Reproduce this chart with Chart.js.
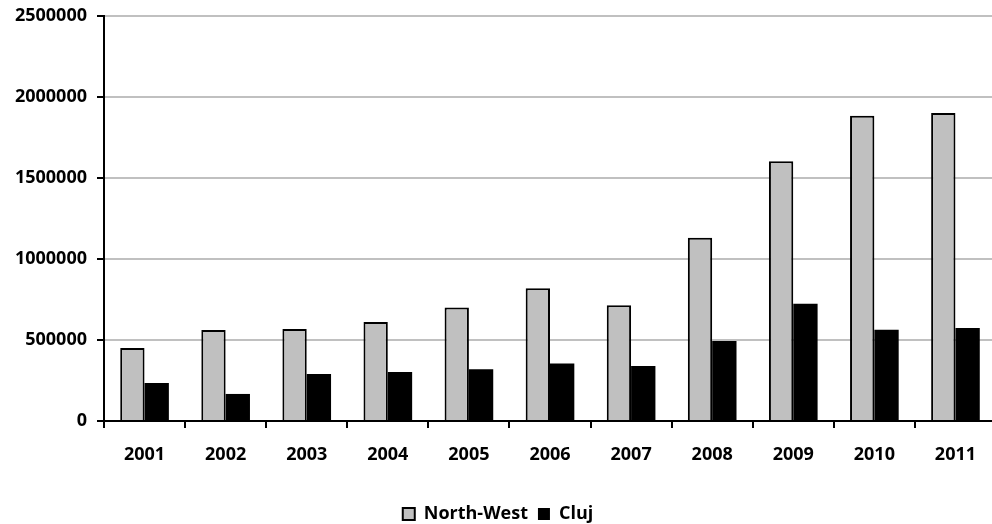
<!DOCTYPE html>
<html>
<head>
<meta charset="utf-8">
<script src="https://cdn.jsdelivr.net/npm/chart.js@4.4.1/dist/chart.umd.min.js"></script>
<style>
  html, body { margin: 0; padding: 0; background: #fff; overflow: hidden; }
  #wrap { width: 1000px; height: 524px; position: relative; }
</style>
</head>
<body>
<div id="wrap"><canvas id="chart"></canvas></div>
<script>
'use strict';

// 데이터
const years = ['2001', '2002', '2003', '2004', '2005', '2006', '2007', '2008', '2009', '2010', '2011'];
const northWest = [450000, 562000, 568000, 611000, 700000, 820000, 715000, 1131000, 1603000, 1885000, 1901000];
const cluj = [235000, 167000, 290000, 302000, 320000, 355000, 340000, 494000, 724000, 564000, 574000];
const yTicks = [0, 500000, 1000000, 1500000, 2000000, 2500000];

Chart.defaults.font.family = "'Open Sans', sans-serif";
Chart.defaults.font.weight = 'bold';
Chart.defaults.font.size = 18;
Chart.defaults.color = '#000';

const ctx = document.getElementById('chart').getContext('2d');

new Chart(ctx, {
  type: 'bar',
  data: {
    labels: years,
    datasets: [
      {
        label: 'North-West',
        data: northWest,
        backgroundColor: '#c0c0c0',
        borderColor: '#000',
        borderWidth: 2,
        borderSkipped: 'bottom',
        barPercentage: 1,
        categoryPercentage: 0.6,
      },
      {
        label: 'Cluj',
        data: cluj,
        backgroundColor: '#000',
        borderColor: '#000',
        borderWidth: 0,
        barPercentage: 1,
        categoryPercentage: 0.6,
      },
    ],
  },
  options: {
    responsive: true,
    maintainAspectRatio: false,
    animation: false,
    layout: { padding: { top: 0, right: 4, left: 0, bottom: -9 } },
    plugins: {
      tooltip: { enabled: false },
      legend: {
        position: 'bottom',
        labels: {
          boxWidth: 12,
          boxHeight: 12,
          padding: 10,
          font: { size: 18, weight: 'bold', lineHeight: 1 },
        },
      },
    },
    scales: {
      x: {
        afterFit(scale) {
          scale.height = 74;
        },
        grid: {
          offset: true,
          drawOnChartArea: false,
          color: '#000',
          tickColor: '#000',
          tickLength: 7,
          lineWidth: 2,
        },
        border: { color: '#000', width: 2 },
        ticks: { padding: 16, maxRotation: 0 },
      },
      y: {
        min: 0,
        max: 2500000,
        afterBuildTicks(scale) {
          scale.ticks = yTicks.map(v => ({ value: v }));
        },
        afterFit(scale) {
          scale.width = 104;
          scale.paddingTop = 16;
        },
        grid: {
          color: '#c0c0c0',
          tickColor: '#000',
          tickLength: 7,
          lineWidth: 2,
        },
        border: { color: '#000', width: 2 },
        ticks: { padding: 10, callback: v => String(v) },
      },
    },
  },
});
</script>
</body>
</html>
